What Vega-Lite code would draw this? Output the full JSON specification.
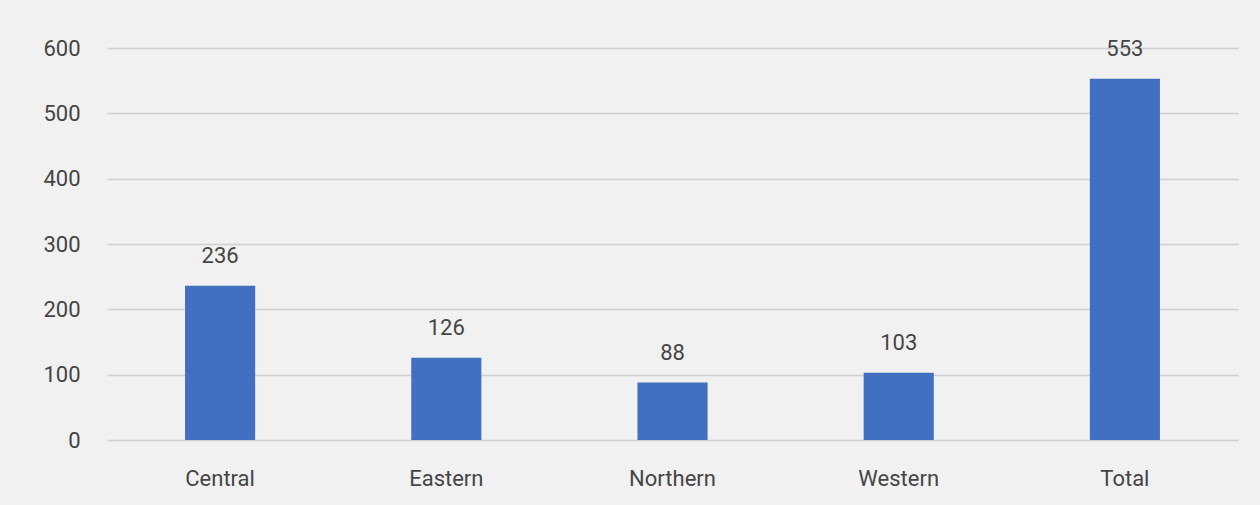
{
  "$schema": "https://vega.github.io/schema/vega-lite/v6.json",
  "autosize": "none",
  "width": 1131,
  "height": 392,
  "padding": {"left": 107, "top": 48, "right": 22, "bottom": 65},
  "background": "#f1f1f1",
  "config": {
    "view": {"stroke": null},
    "font": "Roboto"
  },
  "data": {
    "values": [
      {"region": "Central", "value": 236},
      {"region": "Eastern", "value": 126},
      {"region": "Northern", "value": 88},
      {"region": "Western", "value": 103},
      {"region": "Total", "value": 553}
    ]
  },
  "encoding": {
    "x": {
      "field": "region",
      "type": "nominal",
      "sort": null,
      "scale": {"paddingInner": 0.69, "paddingOuter": 0.345},
      "axis": {
        "title": null,
        "labelAngle": 0,
        "domain": false,
        "ticks": false,
        "labelFontSize": 22,
        "labelColor": "#454545",
        "labelPadding": 28
      }
    },
    "y": {
      "field": "value",
      "type": "quantitative",
      "scale": {"domain": [0, 600]},
      "axis": {
        "title": null,
        "values": [0, 100, 200, 300, 400, 500, 600],
        "domain": false,
        "ticks": false,
        "gridColor": "#cfcfcf",
        "gridWidth": 1.5,
        "labelFontSize": 22,
        "labelColor": "#454545",
        "labelPadding": 27
      }
    }
  },
  "layer": [
    {
      "mark": {"type": "bar", "color": "#4270C0"}
    },
    {
      "mark": {"type": "text", "baseline": "bottom", "dy": -18, "fontSize": 22, "color": "#454545"},
      "encoding": {"text": {"field": "value", "type": "quantitative"}}
    }
  ]
}
